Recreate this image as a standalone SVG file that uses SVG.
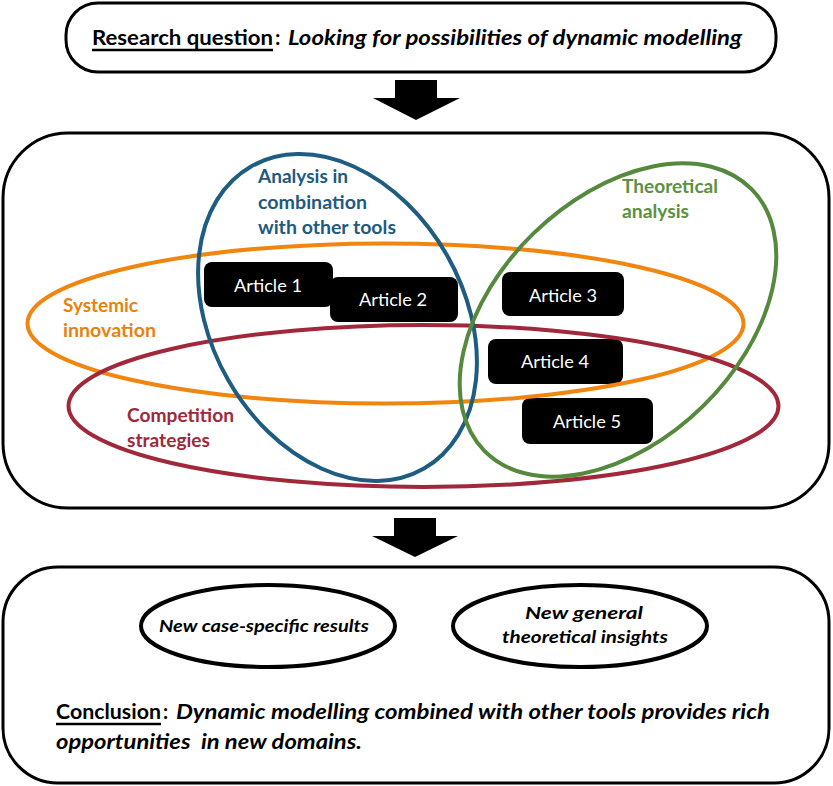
<svg xmlns="http://www.w3.org/2000/svg" width="833" height="786" viewBox="0 0 833 786">
<style>
.box{fill:#fff;stroke:#000;stroke-width:3}
.ell{fill:none;stroke-width:4}
.art{fill:#000}
.artt{fill:#fff;font-family:Lato,"Liberation Sans",sans-serif;font-size:18px;text-anchor:middle}
.lab{font-family:Lato,"Liberation Sans",sans-serif;font-size:18px;font-weight:bold}
.big{font-family:Lato,"Liberation Sans",sans-serif;font-size:20px;font-weight:bold;fill:#000}
.rq{font-size:21px}
.it{font-style:italic}
.sm{font-family:Lato,"Liberation Sans",sans-serif;font-size:17px;font-weight:bold;font-style:italic;fill:#000;text-anchor:middle}
.arrow{fill:#000}
</style>
<g id="research-question">
<rect class="box" x="66" y="3" width="710" height="69" rx="32"/>
<text class="big rq" x="92" y="45" textLength="181" lengthAdjust="spacingAndGlyphs">Research question</text>
<line x1="92" y1="50" x2="273" y2="50" stroke="#000" stroke-width="2.5"/>
<text class="big rq" x="275" y="45">:</text>
<text class="big rq it" x="288" y="45" textLength="454" lengthAdjust="spacingAndGlyphs">Looking for possibilities of dynamic modelling</text>
</g>
<g id="analysis-panel">
<rect class="box" x="3" y="133" width="826" height="375" rx="65"/>
</g>
<g id="article-1"><rect class="art" x="204" y="262" width="129" height="45" rx="8"/><text class="artt" x="268" y="292" textLength="68" lengthAdjust="spacingAndGlyphs">Article 1</text></g>
<g id="article-2"><rect class="art" x="330" y="277" width="128" height="45" rx="8"/><text class="artt" x="393" y="306" textLength="68" lengthAdjust="spacingAndGlyphs">Article 2</text></g>
<g id="article-3"><rect class="art" x="502" y="272" width="122" height="44" rx="8"/><text class="artt" x="563" y="302" textLength="68" lengthAdjust="spacingAndGlyphs">Article 3</text></g>
<g id="article-4"><rect class="art" x="488" y="339" width="135" height="45" rx="8"/><text class="artt" x="555" y="368" textLength="68" lengthAdjust="spacingAndGlyphs">Article 4</text></g>
<g id="article-5"><rect class="art" x="522" y="398" width="131" height="46" rx="8"/><text class="artt" x="587" y="428" textLength="68" lengthAdjust="spacingAndGlyphs">Article 5</text></g>
<g id="systemic-innovation">
<ellipse class="ell" cx="385.5" cy="323.5" rx="358" ry="80" stroke="#F0850F"/>
<text class="lab" fill="#E8820E"><tspan x="63" y="312" textLength="75" lengthAdjust="spacingAndGlyphs">Systemic</tspan><tspan x="63" y="337" textLength="93" lengthAdjust="spacingAndGlyphs">innovation</tspan></text>
</g>
<g id="competition-strategies">
<ellipse class="ell" cx="423.5" cy="406" rx="355" ry="81" stroke="#A0283A"/>
<text class="lab" fill="#A1283A"><tspan x="127" y="422" textLength="107" lengthAdjust="spacingAndGlyphs">Competition</tspan><tspan x="127" y="447" textLength="83" lengthAdjust="spacingAndGlyphs">strategies</tspan></text>
</g>
<g id="analysis-combination">
<ellipse class="ell" cx="337.5" cy="317.5" rx="126" ry="174" transform="rotate(-29.8 337.5 317.5)" stroke="#1F5C82"/>
<text class="lab" fill="#1F5A7E"><tspan x="258" y="183" textLength="90" lengthAdjust="spacingAndGlyphs">Analysis in</tspan><tspan x="258" y="209" textLength="109" lengthAdjust="spacingAndGlyphs">combination</tspan><tspan x="258" y="234" textLength="138" lengthAdjust="spacingAndGlyphs">with other tools</tspan></text>
</g>
<g id="theoretical-analysis">
<ellipse class="ell" cx="618" cy="320" rx="121" ry="187" transform="rotate(45.7 618 320)" stroke="#55893D"/>
<text class="lab" fill="#5B9141"><tspan x="622" y="193" textLength="96" lengthAdjust="spacingAndGlyphs">Theoretical</tspan><tspan x="622" y="218" textLength="67" lengthAdjust="spacingAndGlyphs">analysis</tspan></text>
</g>
<g id="conclusion-panel">
<rect class="box" x="3" y="567" width="826" height="216" rx="55"/>
<text class="big" x="56" y="719" textLength="105" lengthAdjust="spacingAndGlyphs">Conclusion</text>
<line x1="56" y1="724" x2="161" y2="724" stroke="#000" stroke-width="2.5"/>
<text class="big" x="163" y="719">:</text>
<text class="big it" x="176" y="719" textLength="594" lengthAdjust="spacingAndGlyphs">Dynamic modelling combined with other tools provides rich</text>
<text class="big it" x="56" y="749" xml:space="preserve" textLength="306" lengthAdjust="spacingAndGlyphs">opportunities  in new domains.</text>
</g>
<g id="case-specific-results">
<ellipse cx="268" cy="626" rx="127" ry="41" fill="#fff" stroke="#000" stroke-width="4"/>
<text class="sm" x="264" y="632" textLength="210" lengthAdjust="spacingAndGlyphs">New case-specific results</text>
</g>
<g id="theoretical-insights">
<ellipse cx="580" cy="626" rx="127" ry="41" fill="#fff" stroke="#000" stroke-width="4"/>
<text class="sm" x="584" y="619" textLength="118" lengthAdjust="spacingAndGlyphs">New general</text>
<text class="sm" x="585" y="643" textLength="166" lengthAdjust="spacingAndGlyphs">theoretical insights</text>
</g>
<g id="connectors">
<path class="arrow" d="M395,80 H437 V98 H460 L416,120 L373,98 H395 Z"/>
<path class="arrow" d="M394,518 H436 V536 H458 L415,557 L372,536 H394 Z"/>
</g>
</svg>
